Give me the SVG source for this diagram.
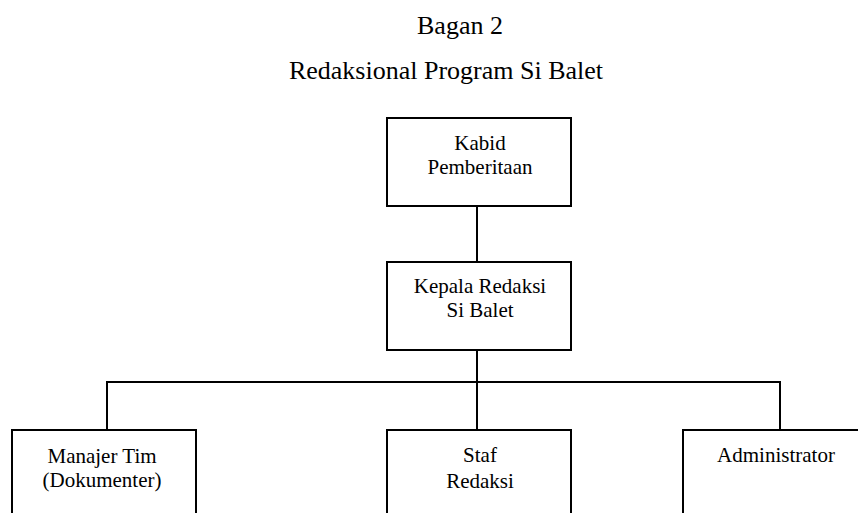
<svg xmlns="http://www.w3.org/2000/svg" width="858" height="513" viewBox="0 0 858 513">
<style>
.box{fill:#fff;stroke:#000;stroke-width:2}
.ln{fill:none;stroke:#000;stroke-width:2}
text{font-family:"Liberation Serif","Times New Roman",serif;font-size:21px;fill:#000;text-anchor:middle}
.h{font-size:26px}
</style>
<rect width="858" height="513" fill="#fff"/>
<g id="title">
<text class="h" x="460" y="34">Bagan 2</text>
<text class="h" x="446" y="79">Redaksional Program Si Balet</text>
</g>
<g id="connectors">
<line class="ln" x1="477" y1="206" x2="477" y2="262"/>
<line class="ln" x1="477" y1="350" x2="477" y2="430"/>
<polyline class="ln" points="107,430 107,382 780,382 780,430"/>
</g>
<g id="kabid">
<rect class="box" x="387" y="118" width="184" height="88"/>
<text x="480" y="150">Kabid</text>
<text x="480" y="174">Pemberitaan</text>
</g>
<g id="kepala">
<rect class="box" x="387" y="262" width="184" height="88"/>
<text x="480" y="293">Kepala Redaksi</text>
<text x="480" y="317">Si Balet</text>
</g>
<g id="manajer">
<rect class="box" x="12" y="430" width="184" height="100"/>
<text x="102" y="463">Manajer Tim</text>
<text x="102" y="487">(Dokumenter)</text>
</g>
<g id="staf">
<rect class="box" x="387" y="430" width="184" height="100"/>
<text x="480" y="462">Staf</text>
<text x="480" y="488">Redaksi</text>
</g>
<g id="admin">
<rect class="box" x="683" y="430" width="184" height="100"/>
<text x="776" y="462">Administrator</text>
</g>
</svg>
